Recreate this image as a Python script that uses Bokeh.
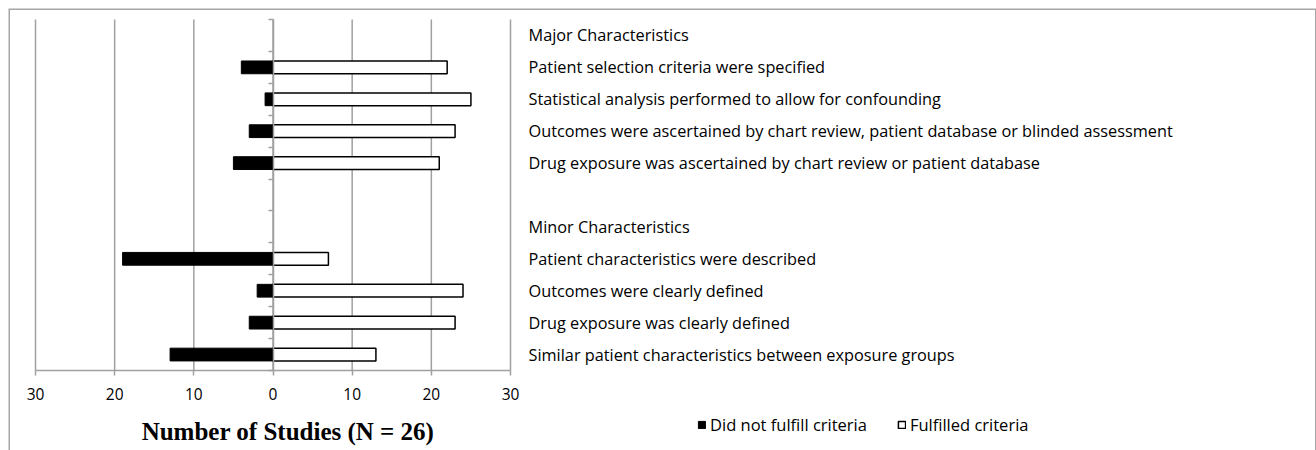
from bokeh.plotting import figure
from bokeh.models import (Range1d, LinearAxis, FixedTicker, ColumnDataSource,
                          Legend, LegendItem, Label)
from bokeh.core.properties import value
from bokeh.embed import file_html
from bokeh.resources import INLINE

# ---------------- data ----------------
row_labels = [
    "Major Characteristics",
    "Patient selection criteria were specified",
    "Statistical analysis performed to allow for confounding",
    "Outcomes were ascertained by chart review, patient database or blinded assessment",
    "Drug exposure was ascertained by chart review or patient database",
    "",
    "Minor Characteristics",
    "Patient characteristics were described",
    "Outcomes were clearly defined",
    "Drug exposure was clearly defined",
    "Similar patient characteristics between exposure groups",
]
not_fulfilled = [None, 4, 1, 3, 5, None, None, 19, 2, 3, 13]
fulfilled = [None, 22, 25, 23, 21, None, None, 7, 24, 23, 13]
tick_values = [-30, -20, -10, 0, 10, 20, 30]
tick_labels = ["30", "20", "10", "0", "10", "20", "30"]
axis_title = "Number of Studies (N = 26)"
legend_labels = ["Did not fulfill criteria", "Fulfilled criteria"]

# ---------------- layout geometry ----------------
W, H = 1316, 450
LEFT, TOP = 8, 8                # outer border offset
n = len(row_labels)
PX_PER_X = 475 / 60.0           # px per study
PX_PER_Y = 351 / 11.0           # px per row
xs = -30 - (35 - LEFT) / PX_PER_X
xe = xs + (W - LEFT) / PX_PER_X
ytop = -(19 - TOP) / PX_PER_Y
ybot = ytop + (H - TOP) / PX_PER_Y

GRID = "#a0a0a0"
FONT = "Open Sans"

p = figure(width=W, height=H, x_range=Range1d(xs, xe), y_range=Range1d(ybot, ytop),
           min_border_left=LEFT, min_border_top=TOP, min_border_right=0,
           min_border_bottom=0, x_axis_location=None, y_axis_location=None,
           output_backend="svg", toolbar_location=None)
p.grid.visible = False
p.outline_line_color = None
p.background_fill_color = "white"
p.border_fill_color = "white"

# outer frame: left, top and right edges (bottom edge is outside the picture)
p.line(x=[xs, xs, xe, xe], y=[ybot, ytop, ytop, ybot], line_color="#a6a6a6",
       line_width=3)

ypos = [i + 0.5 for i in range(n)]

# vertical grid lines spanning only the chart rows
p.segment(x0=tick_values, y0=[0] * len(tick_values), x1=tick_values,
          y1=[n] * len(tick_values), line_color=GRID, line_width=1.5)

nf_idx = [i for i, v in enumerate(not_fulfilled) if v is not None]
f_idx = [i for i, v in enumerate(fulfilled) if v is not None]
src_nf = ColumnDataSource(dict(y=[ypos[i] for i in nf_idx],
                               right=[-not_fulfilled[i] for i in nf_idx]))
src_f = ColumnDataSource(dict(y=[ypos[i] for i in f_idx],
                              right=[fulfilled[i] for i in f_idx]))

r_nf = p.hbar(y="y", left=0, right="right", height=0.4, source=src_nf,
              fill_color="black", line_color="black", line_width=1)
r_f = p.hbar(y="y", left=0, right="right", height=0.4, source=src_f,
             fill_color="white", line_color="black", line_width=1.5)

# x axis
xaxis = LinearAxis(fixed_location=n, bounds=(-30, 30),
                   ticker=FixedTicker(ticks=tick_values),
                   major_label_overrides={v: l for v, l in zip(tick_values, tick_labels)},
                   axis_line_color=GRID, axis_line_width=1.5,
                   major_tick_line_color=GRID, major_tick_line_width=1.5,
                   major_tick_out=5, major_tick_in=0,
                   minor_tick_line_color=None,
                   major_label_text_font=FONT, major_label_text_font_size="15.5px",
                   major_label_text_color="black", major_label_standoff=12)
p.add_layout(xaxis, "below")

# y axis at zero, ticks at row boundaries, no labels
yaxis = LinearAxis(fixed_location=0, bounds=(0, n),
                   ticker=FixedTicker(ticks=list(range(n + 1))),
                   major_label_overrides={i: "" for i in range(n + 1)},
                   axis_line_color=GRID, axis_line_width=1.5,
                   major_tick_line_color=GRID, major_tick_line_width=1.5,
                   major_tick_out=5, major_tick_in=0,
                   minor_tick_line_color=None)
p.add_layout(yaxis, "left")

# row labels on the right
lab_idx = [i for i, t in enumerate(row_labels) if t]
label_x = 30 + 18 / PX_PER_X
src_lab = ColumnDataSource(dict(x=[label_x] * len(lab_idx),
                                y=[ypos[i] for i in lab_idx],
                                t=[row_labels[i] for i in lab_idx]))
p.text(x="x", y="y", text="t", source=src_lab, text_font=value(FONT),
       text_font_size="16.3px", text_baseline="middle", text_align="left",
       text_color="black")

# axis title
p.add_layout(Label(x=15 / PX_PER_X, y=(431 - 19) / PX_PER_Y, text=axis_title,
                   text_font="Liberation Serif", text_font_style="bold",
                   text_font_size="25px", text_align="center",
                   text_baseline="middle", text_color="black"))

legend = Legend(items=[LegendItem(label=legend_labels[0], renderers=[r_nf]),
                       LegendItem(label=legend_labels[1], renderers=[r_f])],
                orientation="horizontal", location=(697 - LEFT, 14),
                glyph_width=9, glyph_height=9, label_standoff=4, spacing=30,
                padding=0, margin=0, border_line_color=None,
                background_fill_alpha=0,
                label_text_font=FONT, label_text_font_size="16.5px",
                label_text_color="black")
p.add_layout(legend)

open("out.html", "w").write(file_html(p, INLINE))
